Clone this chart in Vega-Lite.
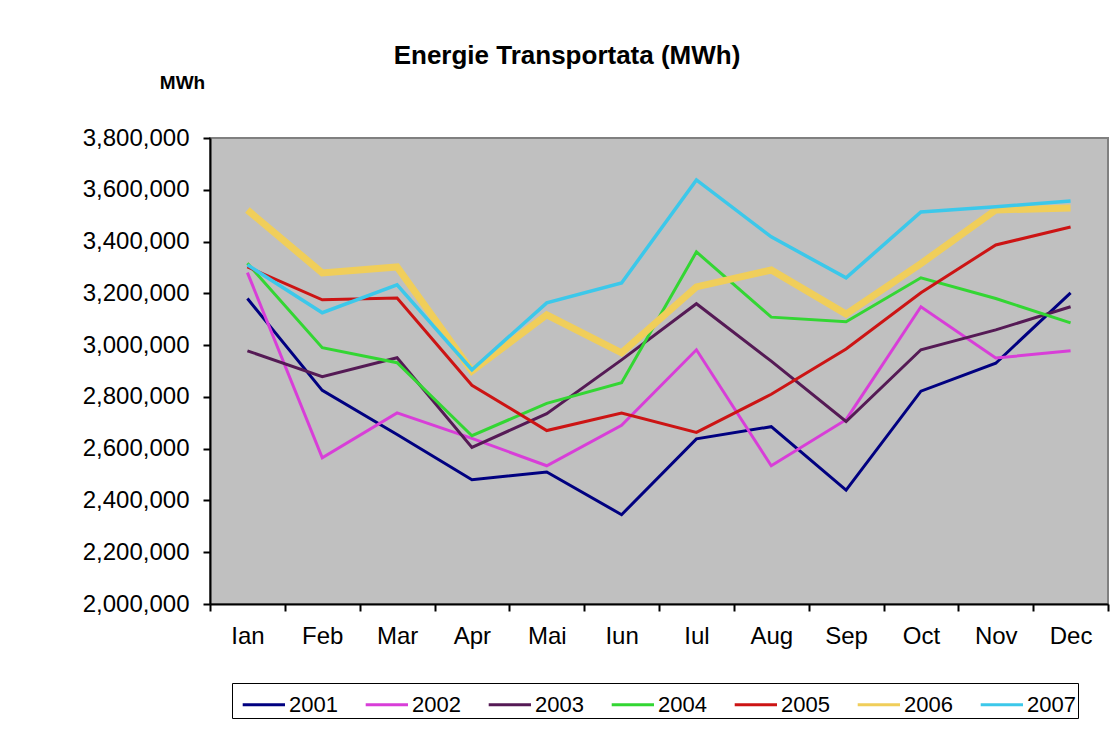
{
  "$schema": "https://vega.github.io/schema/vega-lite/v6.json",
  "width": 898,
  "height": 466,
  "autosize": {"type": "none"},
  "padding": {"left": 210, "top": 138, "right": 5, "bottom": 127},
  "background": "#ffffff",
  "title": {
    "text": "Energie Transportata (MWh)",
    "font": "Liberation Sans",
    "fontSize": 26,
    "fontWeight": "bold",
    "color": "#000000",
    "frame": "group",
    "anchor": "middle",
    "dx": -92,
    "offset": 4
  },
  "data": {
    "values": [
      {"month": "Ian", "year": "2001", "mwh": 3180000}, {"month": "Feb", "year": "2001", "mwh": 2825000}, {"month": "Mar", "year": "2001", "mwh": 2655000}, {"month": "Apr", "year": "2001", "mwh": 2480000}, {"month": "Mai", "year": "2001", "mwh": 2510000}, {"month": "Iun", "year": "2001", "mwh": 2345000}, {"month": "Iul", "year": "2001", "mwh": 2638000}, {"month": "Aug", "year": "2001", "mwh": 2685000}, {"month": "Sep", "year": "2001", "mwh": 2440000}, {"month": "Oct", "year": "2001", "mwh": 2822000}, {"month": "Nov", "year": "2001", "mwh": 2930000}, {"month": "Dec", "year": "2001", "mwh": 3202000},
      {"month": "Ian", "year": "2002", "mwh": 3280000}, {"month": "Feb", "year": "2002", "mwh": 2565000}, {"month": "Mar", "year": "2002", "mwh": 2738000}, {"month": "Apr", "year": "2002", "mwh": 2640000}, {"month": "Mai", "year": "2002", "mwh": 2534000}, {"month": "Iun", "year": "2002", "mwh": 2690000}, {"month": "Iul", "year": "2002", "mwh": 2982000}, {"month": "Aug", "year": "2002", "mwh": 2534000}, {"month": "Sep", "year": "2002", "mwh": 2712000}, {"month": "Oct", "year": "2002", "mwh": 3148000}, {"month": "Nov", "year": "2002", "mwh": 2950000}, {"month": "Dec", "year": "2002", "mwh": 2978000},
      {"month": "Ian", "year": "2003", "mwh": 2978000}, {"month": "Feb", "year": "2003", "mwh": 2878000}, {"month": "Mar", "year": "2003", "mwh": 2951000}, {"month": "Apr", "year": "2003", "mwh": 2605000}, {"month": "Mai", "year": "2003", "mwh": 2735000}, {"month": "Iun", "year": "2003", "mwh": 2943000}, {"month": "Iul", "year": "2003", "mwh": 3160000}, {"month": "Aug", "year": "2003", "mwh": 2938000}, {"month": "Sep", "year": "2003", "mwh": 2705000}, {"month": "Oct", "year": "2003", "mwh": 2982000}, {"month": "Nov", "year": "2003", "mwh": 3059000}, {"month": "Dec", "year": "2003", "mwh": 3148000},
      {"month": "Ian", "year": "2004", "mwh": 3316000}, {"month": "Feb", "year": "2004", "mwh": 2990000}, {"month": "Mar", "year": "2004", "mwh": 2932000}, {"month": "Apr", "year": "2004", "mwh": 2650000}, {"month": "Mai", "year": "2004", "mwh": 2775000}, {"month": "Iun", "year": "2004", "mwh": 2855000}, {"month": "Iul", "year": "2004", "mwh": 3360000}, {"month": "Aug", "year": "2004", "mwh": 3108000}, {"month": "Sep", "year": "2004", "mwh": 3090000}, {"month": "Oct", "year": "2004", "mwh": 3260000}, {"month": "Nov", "year": "2004", "mwh": 3180000}, {"month": "Dec", "year": "2004", "mwh": 3086000},
      {"month": "Ian", "year": "2005", "mwh": 3302000}, {"month": "Feb", "year": "2005", "mwh": 3175000}, {"month": "Mar", "year": "2005", "mwh": 3182000}, {"month": "Apr", "year": "2005", "mwh": 2845000}, {"month": "Mai", "year": "2005", "mwh": 2670000}, {"month": "Iun", "year": "2005", "mwh": 2738000}, {"month": "Iul", "year": "2005", "mwh": 2663000}, {"month": "Aug", "year": "2005", "mwh": 2810000}, {"month": "Sep", "year": "2005", "mwh": 2985000}, {"month": "Oct", "year": "2005", "mwh": 3202000}, {"month": "Nov", "year": "2005", "mwh": 3387000}, {"month": "Dec", "year": "2005", "mwh": 3456000},
      {"month": "Ian", "year": "2006", "mwh": 3522000}, {"month": "Feb", "year": "2006", "mwh": 3279000}, {"month": "Mar", "year": "2006", "mwh": 3302000}, {"month": "Apr", "year": "2006", "mwh": 2900000}, {"month": "Mai", "year": "2006", "mwh": 3117000}, {"month": "Iun", "year": "2006", "mwh": 2970000}, {"month": "Iul", "year": "2006", "mwh": 3225000}, {"month": "Aug", "year": "2006", "mwh": 3290000}, {"month": "Sep", "year": "2006", "mwh": 3120000}, {"month": "Oct", "year": "2006", "mwh": 3315000}, {"month": "Nov", "year": "2006", "mwh": 3522000}, {"month": "Dec", "year": "2006", "mwh": 3530000},
      {"month": "Ian", "year": "2007", "mwh": 3310000}, {"month": "Feb", "year": "2007", "mwh": 3125000}, {"month": "Mar", "year": "2007", "mwh": 3233000}, {"month": "Apr", "year": "2007", "mwh": 2905000}, {"month": "Mai", "year": "2007", "mwh": 3163000}, {"month": "Iun", "year": "2007", "mwh": 3240000}, {"month": "Iul", "year": "2007", "mwh": 3638000}, {"month": "Aug", "year": "2007", "mwh": 3418000}, {"month": "Sep", "year": "2007", "mwh": 3260000}, {"month": "Oct", "year": "2007", "mwh": 3514000}, {"month": "Nov", "year": "2007", "mwh": 3534000}, {"month": "Dec", "year": "2007", "mwh": 3557000}
    ]
  },
  "encoding": {
    "x": {
      "field": "month",
      "type": "nominal",
      "sort": null,
      "scale": {"type": "band", "domain": ["Ian", "Feb", "Mar", "Apr", "Mai", "Iun", "Iul", "Aug", "Sep", "Oct", "Nov", "Dec"], "paddingInner": 0, "paddingOuter": 0},
      "axis": {
        "title": null,
        "tickBand": "extent",
        "labelAngle": 0,
        "labelFont": "Liberation Sans",
        "labelFontSize": 24,
        "labelColor": "#000000",
        "labelPadding": 13,
        "tickSize": 7,
        "tickWidth": 2,
        "tickColor": "#000000",
        "domainColor": "#000000",
        "domainWidth": 2,
        "grid": false
      }
    },
    "y": {
      "field": "mwh",
      "type": "quantitative",
      "scale": {"domain": [2000000, 3800000], "nice": false, "zero": false},
      "axis": {
        "values": [2000000, 2200000, 2400000, 2600000, 2800000, 3000000, 3200000, 3400000, 3600000, 3800000],
        "format": ",d",
        "title": "MWh",
        "titleAngle": 0,
        "titleX": -28,
        "titleY": -56,
        "titleAlign": "center",
        "titleBaseline": "middle",
        "titleFont": "Liberation Sans",
        "titleFontSize": 19,
        "titleFontWeight": "bold",
        "titleColor": "#000000",
        "labelFont": "Liberation Sans",
        "labelFontSize": 24,
        "labelColor": "#000000",
        "labelPadding": 14,
        "tickSize": 7,
        "tickWidth": 2,
        "tickColor": "#000000",
        "domainColor": "#000000",
        "domainWidth": 2,
        "grid": false
      }
    },
    "color": {
      "field": "year",
      "type": "nominal",
      "scale": {
        "domain": ["2001", "2002", "2003", "2004", "2005", "2006", "2007"],
        "range": ["#000080", "#D83ED8", "#551A55", "#33D633", "#CC1414", "#F0CE5A", "#3CC8EA"]
      },
      "legend": {
        "title": null,
        "orient": "none",
        "legendX": 22,
        "legendY": 545,
        "direction": "horizontal",
        "columns": 7,
        "columnPadding": 19,
        "padding": 2,
        "strokeColor": "#000000",
        "fillColor": "#ffffff",
        "symbolType": "M-0.6,0H1.75",
        "symbolSize": 1296,
        "symbolStrokeWidth": 3,
        "labelFont": "Liberation Sans",
        "labelFontSize": 22,
        "labelColor": "#000000",
        "labelOffset": 16
      }
    }
  },
  "layer": [
    {
      "transform": [{"filter": {"field": "year", "oneOf": ["2001", "2002", "2003", "2004", "2005"]}}],
      "mark": {"type": "line", "strokeWidth": 3}
    },
    {
      "transform": [{"filter": {"field": "year", "equal": "2006"}}],
      "mark": {"type": "line", "strokeWidth": 7}
    },
    {
      "transform": [{"filter": {"field": "year", "equal": "2007"}}],
      "mark": {"type": "line", "strokeWidth": 3.5}
    }
  ],
  "config": {
    "view": {"fill": "#C0C0C0", "stroke": "#808080", "strokeWidth": 2}
  }
}
